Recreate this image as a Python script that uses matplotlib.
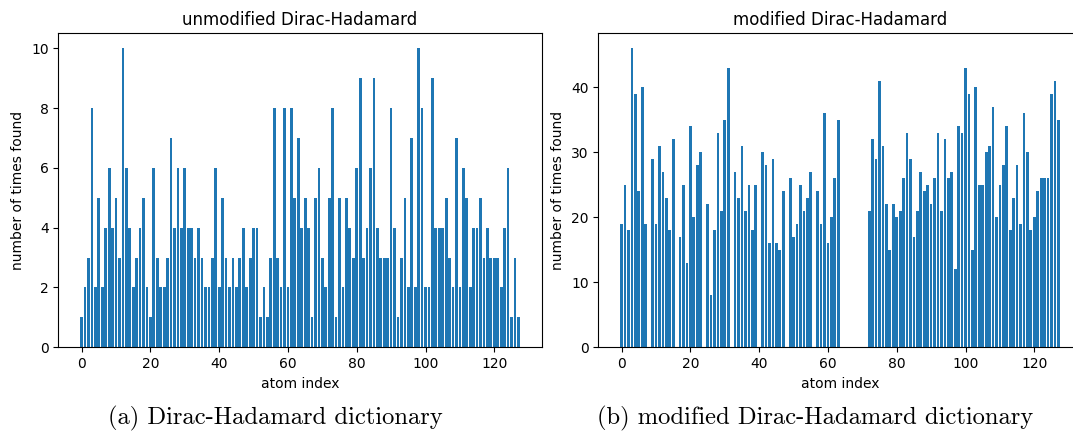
import matplotlib
matplotlib.use("Agg")
import matplotlib.pyplot as plt
import numpy as np

# Data: counts for the 128 atoms
unmodified_counts = [
    1, 2, 3, 8, 2, 5, 2, 4, 6, 4, 5, 3, 10, 6, 4, 2,
    3, 4, 5, 2, 1, 6, 3, 2, 2, 3, 7, 4, 6, 4, 6, 4,
    4, 3, 4, 3, 2, 2, 3, 6, 2, 5, 3, 2, 3, 2, 3, 4,
    2, 3, 4, 4, 1, 2, 1, 3, 8, 3, 2, 8, 2, 8, 5, 7,
    4, 5, 4, 1, 5, 6, 3, 2, 5, 8, 1, 5, 2, 5, 4, 3,
    6, 9, 3, 4, 6, 9, 4, 3, 3, 3, 8, 4, 1, 3, 5, 2,
    7, 2, 10, 8, 2, 2, 9, 4, 4, 4, 5, 3, 2, 7, 2, 6,
    5, 2, 4, 4, 5, 3, 4, 3, 3, 3, 2, 4, 6, 1, 3, 1,
]

modified_counts = [
    19, 25, 18, 46, 39, 24, 40, 19, 0, 29, 19, 31, 27, 23, 18, 32,
    0, 17, 25, 13, 34, 20, 28, 30, 0, 22, 8, 18, 33, 21, 35, 43,
    0, 27, 23, 31, 21, 25, 18, 25, 0, 30, 28, 16, 29, 16, 15, 24,
    0, 26, 17, 19, 25, 21, 23, 27, 0, 24, 19, 36, 16, 20, 26, 35,
    0, 0, 0, 0, 0, 0, 0, 0, 21, 32, 29, 41, 31, 22, 15, 22,
    20, 21, 26, 33, 29, 17, 21, 27, 24, 25, 22, 26, 33, 21, 32, 26,
    27, 12, 34, 33, 43, 39, 15, 40, 25, 25, 30, 31, 37, 20, 25, 28,
    34, 18, 23, 28, 19, 36, 30, 18, 20, 24, 26, 26, 26, 39, 41, 35,
]

atom_index = np.arange(len(unmodified_counts))

titles = ["unmodified Dirac-Hadamard", "modified Dirac-Hadamard"]
captions = ["(a) Dirac-Hadamard dictionary", "(b) modified Dirac-Hadamard dictionary"]
xlabel = "atom index"
ylabel = "number of times found"

W, H = 1073, 432
fig = plt.figure(figsize=(W / 100, H / 100), dpi=100)

ax_w = 483.4
ax1 = fig.add_axes([58.3 / W, 1 - 347.3 / H, ax_w / W, (347.3 - 33.3) / H])
ax2 = fig.add_axes([598.3 / W, 1 - 347.3 / H, ax_w / W, (347.3 - 33.3) / H])

for ax, counts, title in [(ax1, unmodified_counts, titles[0]), (ax2, modified_counts, titles[1])]:
    ax.bar(atom_index, counts, width=0.8, color="#1f77b4")
    ax.set_title(title, fontsize=12)
    ax.set_xlabel(xlabel, fontsize=10)
    ax.set_ylabel(ylabel, fontsize=10)
    ax.set_xticks([0, 20, 40, 60, 80, 100, 120])
    ax.tick_params(labelsize=10)

ax1.set_yticks([0, 2, 4, 6, 8, 10])
ax2.set_yticks([0, 10, 20, 30, 40])

fig.text(275 / W, 1 - 418 / H, captions[0], ha="center", va="center",
         family="cmr10", fontsize=17.7)
fig.text(815 / W, 1 - 418 / H, captions[1], ha="center", va="center",
         family="cmr10", fontsize=17.7)

fig.savefig("out.png", dpi=100)
